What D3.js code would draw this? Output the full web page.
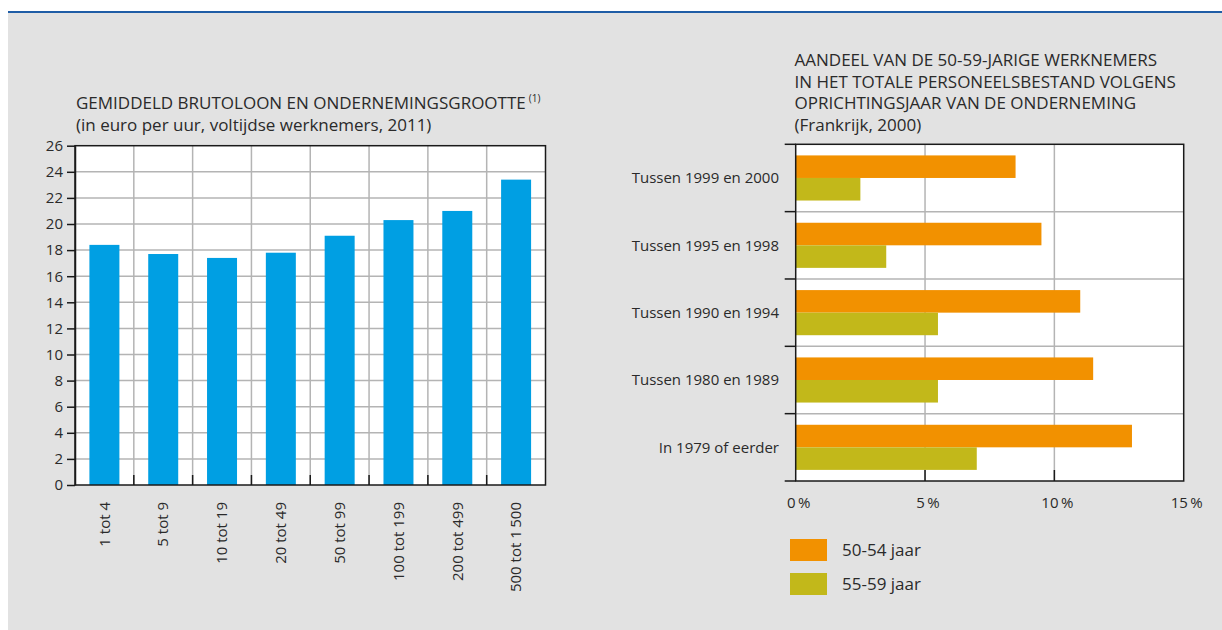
<!DOCTYPE html>
<html><head><meta charset="utf-8">
<script src="https://cdn.jsdelivr.net/npm/d3@7/dist/d3.min.js"></script>
<style>
body{margin:0;background:#fff}
svg text{font-family:'Open Sans',sans-serif;fill:#2a2a2a}
</style>
</head><body>
<svg id="c" width="1222" height="630"></svg>
<script>
// ---------- data ----------
const sizeCategories = ["1 tot 4","5 tot 9","10 tot 19","20 tot 49","50 tot 99","100 tot 199","200 tot 499","500 tot 1\u2009500"];
const wageValues = [18.4,17.7,17.4,17.8,19.1,20.3,21.0,23.4];
const wageTicks = [0,2,4,6,8,10,12,14,16,18,20,22,24,26];

const foundingCategories = ["Tussen 1999 en 2000","Tussen 1995 en 1998","Tussen 1990 en 1994","Tussen 1980 en 1989","In 1979 of eerder"];
const seriesNames = ["50-54 jaar","55-59 jaar"];
const share5054 = [8.5,9.5,11.0,11.5,13.0];
const share5559 = [2.5,3.5,5.5,5.5,7.0];
const shareTicks = [0,5,10,15];

const leftTitle = ["GEMIDDELD BRUTOLOON EN ONDERNEMINGSGROOTTE","(in euro per uur, voltijdse werknemers, 2011)"];
const rightTitle = ["AANDEEL VAN DE 50-59-JARIGE WERKNEMERS","IN HET TOTALE PERSONEELSBESTAND VOLGENS","OPRICHTINGSJAAR VAN DE ONDERNEMING","(Frankrijk, 2000)"];

// ---------- styles ----------
const BLUE = "#009fe3", ORANGE = "#f29100", OLIVE = "#c2b81a", GRID = "#b4b4b4", AX = "#1a1a1a";

const svg = d3.select("#c");
// background
svg.append("rect").attr("x",8).attr("y",12).attr("width",1214).attr("height",618).attr("fill","#e2e2e2");
svg.append("line").attr("x1",8).attr("x2",1222).attr("y1",12).attr("y2",12).attr("stroke","#1f5da6").attr("stroke-width",2);

// ================= LEFT CHART =================
const L = {x0:75, x1:545.5, y0:485, y1:145.7};
const xL = d3.scaleBand().domain(sizeCategories).range([L.x0,L.x1]).paddingInner(0.49).paddingOuter(0.245);
const yL = d3.scaleLinear().domain([0,26]).range([L.y0,L.y1]);
const gL = svg.append("g");
gL.append("rect").attr("x",L.x0).attr("y",L.y1).attr("width",L.x1-L.x0).attr("height",L.y0-L.y1).attr("fill","#fff");
// horizontal grid
gL.selectAll(".hg").data(wageTicks.slice(1,-1)).join("line")
  .attr("x1",L.x0).attr("x2",L.x1).attr("y1",d=>yL(d)).attr("y2",d=>yL(d))
  .attr("stroke",GRID).attr("stroke-width",1.5);
// vertical grid at band boundaries
const bL = sizeCategories.slice(1).map((d,i)=>L.x0 + (i+1)*xL.step());
gL.selectAll(".vg").data(bL).join("line")
  .attr("x1",d=>d).attr("x2",d=>d).attr("y1",L.y1).attr("y2",L.y0)
  .attr("stroke",GRID).attr("stroke-width",1.5);
// bars
gL.selectAll(".bar").data(wageValues).join("rect")
  .attr("x",(d,i)=>xL(sizeCategories[i])).attr("width",xL.bandwidth())
  .attr("y",d=>yL(d)).attr("height",d=>yL(0)-yL(d)).attr("fill",BLUE);
// inner bottom ticks
gL.selectAll(".bt").data(bL).join("line")
  .attr("x1",d=>d).attr("x2",d=>d).attr("y1",L.y0-10).attr("y2",L.y0)
  .attr("stroke",AX).attr("stroke-width",1.5);
// frame
gL.append("rect").attr("x",L.x0).attr("y",L.y1).attr("width",L.x1-L.x0).attr("height",L.y0-L.y1)
  .attr("fill","none").attr("stroke",AX).attr("stroke-width",1.5);
// y axis
const yAxL = gL.append("g").attr("transform",`translate(${L.x0},0)`)
  .call(d3.axisLeft(yL).tickValues(wageTicks).tickSize(8).tickSizeOuter(0).tickPadding(4));
yAxL.select(".domain").attr("stroke",AX).attr("stroke-width",1.5);
yAxL.selectAll(".tick line").attr("stroke",AX).attr("stroke-width",1.5);
yAxL.selectAll(".tick text").attr("font-size",15).attr("fill","#2a2a2a").style("font-family","'Open Sans',sans-serif");
// x labels rotated
gL.selectAll(".xl").data(sizeCategories).join("text")
  .attr("transform",d=>`translate(${xL(d)+xL.bandwidth()/2},502) rotate(-90)`)
  .attr("text-anchor","end").attr("dy","0.35em").attr("font-size",15).text(d=>d);
// title
const tL = gL.append("text").attr("x",76).attr("y",109).attr("font-size",17);
tL.append("tspan").text(leftTitle[0]);
tL.append("tspan").attr("font-size",10).attr("dx",3).attr("dy",-7).text("(1)");
gL.append("text").attr("x",76).attr("y",131).attr("font-size",17).text(leftTitle[1]);

// ================= RIGHT CHART =================
const R = {x0:795.7, x1:1183.7, y0:144.3, y1:481};
const xR = d3.scaleLinear().domain([0,15]).range([R.x0,R.x1]);
const yR = d3.scaleBand().domain(foundingCategories).range([R.y0,R.y1]).paddingInner(0.33).paddingOuter(0.165);
const ySub = d3.scaleBand().domain(seriesNames).range([0,yR.bandwidth()]);
const color = d3.scaleOrdinal().domain(seriesNames).range([ORANGE,OLIVE]);
const gR = svg.append("g");
gR.append("rect").attr("x",R.x0).attr("y",R.y0).attr("width",R.x1-R.x0).attr("height",R.y1-R.y0).attr("fill","#fff");
// vertical grid
gR.selectAll(".vg").data(shareTicks.slice(1,-1)).join("line")
  .attr("x1",d=>xR(d)).attr("x2",d=>xR(d)).attr("y1",R.y0).attr("y2",R.y1)
  .attr("stroke",GRID).attr("stroke-width",1.5);
// horizontal grid at band boundaries
const bR = foundingCategories.slice(1).map((d,i)=>R.y0 + (i+1)*yR.step());
gR.selectAll(".hg").data(bR).join("line")
  .attr("x1",R.x0).attr("x2",R.x1).attr("y1",d=>d).attr("y2",d=>d)
  .attr("stroke",GRID).attr("stroke-width",1.5);
// bars
const rows = foundingCategories.map((c,i)=>({c, vals:[{s:seriesNames[0],v:share5054[i]},{s:seriesNames[1],v:share5559[i]}]}));
gR.selectAll(".grp").data(rows).join("g").attr("transform",d=>`translate(0,${yR(d.c)})`)
  .selectAll("rect").data(d=>d.vals).join("rect")
  .attr("x",xR(0)).attr("y",d=>ySub(d.s)).attr("height",ySub.bandwidth())
  .attr("width",d=>xR(d.v)-xR(0)).attr("fill",d=>color(d.s));
// inner bottom ticks
gR.selectAll(".bt").data(shareTicks.slice(1,-1)).join("line")
  .attr("x1",d=>xR(d)).attr("x2",d=>xR(d)).attr("y1",R.y1-11).attr("y2",R.y1)
  .attr("stroke",AX).attr("stroke-width",1.5);
// frame
gR.append("rect").attr("x",R.x0).attr("y",R.y0).attr("width",R.x1-R.x0).attr("height",R.y1-R.y0)
  .attr("fill","none").attr("stroke",AX).attr("stroke-width",1.5);
// left ticks at band boundaries
const allB = [R.y0, ...bR, R.y1];
gR.selectAll(".lt").data(allB).join("line")
  .attr("x1",R.x0-11).attr("x2",R.x0).attr("y1",d=>d).attr("y2",d=>d)
  .attr("stroke",AX).attr("stroke-width",1.5);
// category labels
gR.selectAll(".cl").data(foundingCategories).join("text")
  .attr("x",779).attr("y",d=>yR(d)+yR.bandwidth()/2).attr("dy","0.35em")
  .attr("text-anchor","end").attr("font-size",15).text(d=>d);
// x axis labels
gR.selectAll(".xl").data(shareTicks).join("text")
  .attr("x",d=>xR(d)+3).attr("y",508).attr("text-anchor","middle").attr("font-size",15)
  .text(d=>d+"\u2009%");
// title
rightTitle.forEach((t,i)=>{
  gR.append("text").attr("x",794.5).attr("y",66+i*21.5).attr("font-size",17).text(t);
});
// legend
const lg = gR.selectAll(".lg").data(seriesNames).join("g").attr("transform",(d,i)=>`translate(790,${539+i*34})`);
lg.append("rect").attr("width",37).attr("height",22).attr("fill",d=>color(d));
lg.append("text").attr("x",52).attr("y",11).attr("dy","0.35em").attr("font-size",17).text(d=>d);
</script>
</body></html>
